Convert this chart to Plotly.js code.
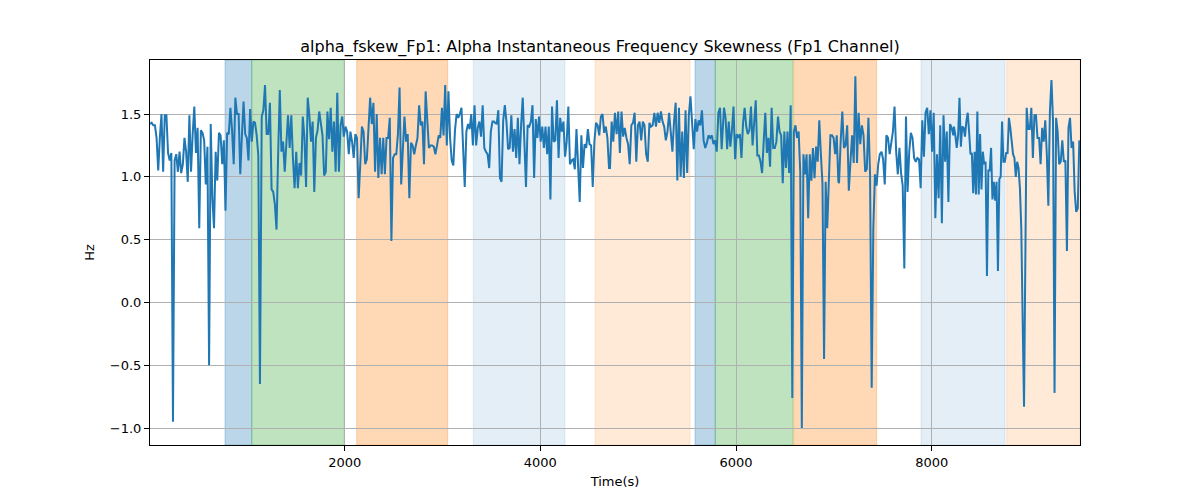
<!DOCTYPE html>
<html>
<head>
<meta charset="utf-8">
<script src="https://cdn.plot.ly/plotly-3.0.1.min.js"></script>
<style>
  body { margin: 0; background: #fff; }
  #chart { width: 1200px; height: 500px; }
</style>
</head>
<body>
<div id="chart"></div>
<script>
// alpha instantaneous frequency skewness, Fp1 channel, in chunks of the recording
var seg1 = [1.42,1.43,1.41,1.41,1.31,1.05,1.31,1.5,1.04,1.49,1.49,1.19,1.13,1.19,-0.95,1.13,1.18,1.04,1.2,1.03,
  1.1,1.31,1.2,0.96,1.49,1.04,1.34,1.56,1.19,1.39,0.59,1.37,1.35,1.29,0.94,1.24,-0.5,1.42,0.83,0.59,
  1.2,0.97,1.35,1.33,1.1,1.29,0.73,1.35,1.34,1.55,1.37,1.1,1.63,1.5,1.5,1.02,1.33,1.6,1.34,1.31,
  1.13,1.54,1.28,1.44,1.43,1.33,1.17,-0.65];
var seg2 = [1.48,1.53,1.73,1.34,1.34,1.59,0.9,0.88,0.78,0.58,1.18,1.69,1.2,1.28,1.04,1.28,1.49,1.23,1.49,1.15,
  0.91,1.2,0.91,1.11,1.01,1.48,1.31,0.92,1.63,1.49,1.28,1.44,0.88,1.31,1.37,1.52,1.41,1.33,1.01,1.04,
  1.52,1.3,1.55,1.2,1.44,1.04,1.67,1.04,1.41,1.48,1.32,1.4,1.36,1.18,1.36,1.28,1.15,1.34,1.31,0.83,
  1.1,1.4,1.36,1.1,1.14,1.39,1.63,1.42,1.59,1.04,1.5,0.99];
var seg3 = [1.31,1.02,1.31,1.02,1.31,1.31,1.47,0.49,1.15,1.18,1.18,1.34,1.71,0.94,1.18,1.48,1.28,1.34,0.83,1.27,
  1.25,1.18,1.25,1.31,1.57,1.41,1.44,1.1,1.68,1.41,1.23,1.25,1.25,1.24,1.18,1.25,1.33,1.31,1.55,1.33,
  1.73,1.25,1.68,1.31,1.13,1.09,1.37,1.5,1.47,1.5,1.55,1.23,0.92,1.36,1.42,1.38,1.5,1.25,1.57,1.25,
  1.39,1.44,1.32,1.57,1.23,1.2,1.18,1.07,1.36,1.44,1.44];
var seg4 = [1.43,1.42,1.53,0.99,0.96,1.45,1.57,1.44,1.22,1.23,1.49,1.2,1.38,1.15,1.47,1.1,1.41,1.63,1.28,0.92,
  1.41,1.4,1.44,1.57,0.99,1.46,1.31,1.48,1.28,1.4,1.23,1.4,1.18,1.4,0.82,1.56,1.28,1.29,1.61,1.15,
  1.47,1.36,1.44,1.16,1.28,1.56,1.1,1.13,1.14,1.06,1.38,1.13,0.8,1.33,1.07,1.26,1.23,1.38,1.26,1.25,
  0.92,1.28,1.43,1.41,1.33,1.48,1.5,1.35,1.4,1.31,1.07];
var seg5 = [1.07,1.44,1.28,1.51,1.34,1.52,1.19,1.52,1.32,1.39,1.31,1.26,1.1,1.41,1.43,1.51,1.12,1.41,1.44,1.29,
  1.44,1.41,1.18,1.12,1.43,1.4,1.41,1.51,1.4,1.51,1.43,1.52,1.44,1.4,1.29,1.36,1.51,1.33,1.2,1.44,
  1.59,0.97,1.55,1.0,1.36,0.99,1.53,1.03,1.49,1.64,1.44,1.22,1.46,1.36,1.45,1.41,1.53,1.29,1.23,1.27,
  1.33,1.31,1.33,1.26,1.29,1.2,1.51,1.55,1.22,1.51];
var seg6 = [1.55,1.47,1.22,1.44,1.24,1.37,1.56,1.14,1.34,1.31,1.34,1.15,1.43,1.55,1.4,1.34,1.37,1.56,1.25,1.43,
  1.61,1.17,1.17,1.12,1.03,1.28,1.51,1.19,1.31,1.08,1.55,1.23,1.23,1.28,1.48,1.36,1.33,0.95,1.36,1.07,
  1.36,1.03,1.57,-0.76,1.36,1.41,1.31,1.36,1.04,-1.0,1.18,1.02,1.18,0.67,1.18,0.97,1.23,0.99,1.24,1.12,
  1.45,1.18,0.95,-0.45,0.96,0.59,0.9,1.33,1.33,1.31,1.18,1.33,0.96];
var seg7 = [0.95,1.28,1.52,1.23,1.25,1.41,0.89,1.12,1.33,1.11,1.8,1.11,1.51,1.26,1.41,1.33,1.04,1.06,1.47,1.02,
  -0.68,0.59,1.02,0.93,1.1,1.18,1.2,1.14,0.94,1.33,1.31,1.18,1.26,1.36,1.56,1.2,1.02,1.23,1.03,0.93,
  0.27,1.48,0.88,1.2,1.35,1.31,1.15,1.12,1.15,1.14,0.91,1.45,1.16,1.51,1.55,1.34,1.53,1.2,1.51,0.67,
  1.18,0.83,1.41,0.63,1.49,1.12,1.36,0.8,1.42,1.39,1.33];
var seg8 = [1.4,1.33,1.23,1.33,1.63,1.24,1.4,1.39,1.32,1.44,1.51,1.36,1.18,1.19,0.87,1.2,0.86,1.52,0.86,1.34,
  0.9,1.2,1.1,1.12,0.21,1.05,1.05,1.23,0.82,0.96,0.81,0.96,0.25,0.98,1.0,1.44,1.12,1.12,1.19,1.19,
  1.47,1.39,1.28,1.18,1.15,1.0,1.12,1.07,0.91,0.59,-0.15,-0.83];
var seg9 = [1.55,1.38,1.38,1.55,1.15,1.49,1.49,1.31,
  1.31,1.1,1.39,1.28,1.45,1.18,0.77,1.52,1.77,1.45,-0.72,1.47,1.36,1.1,1.12,1.29,1.12,1.13,0.41,1.39,
  1.47,1.23,1.28,0.88,0.72,0.75,1.29];

// time span (s) of each chunk: first and last sample
var segValues = [seg1, seg2, seg3, seg4, seg5, seg6, seg7, seg8, seg9];
var segStartT = [10, 1152, 2361, 3537, 4712, 5877, 7053, 8228, 8971];
var segEndT   = [1134, 2344, 3527, 4702, 5870, 7046, 8221, 8944, 9509];

// shaded segments (seconds) and their kind
var bandStart = [777, 1050, 2123, 3315, 4559, 5581, 5788, 6590, 7891, 8767];
var bandEnd   = [1050, 1996, 3053, 4252, 5530, 5788, 6583, 7438, 8750, 9516];
var bandKind  = ['blue', 'green', 'orange', 'lightblue', 'lightorange',
                 'blue', 'green', 'orange', 'lightblue', 'lightorange'];

var bandColors = {
  blue: 'rgba(31,119,180,0.3)',
  green: 'rgba(44,160,44,0.3)',
  orange: 'rgba(255,127,14,0.3)',
  lightblue: 'rgba(31,119,180,0.12)',
  lightorange: 'rgba(255,127,14,0.16)'
};

var times = [], skew = [];
segValues.forEach(function (vals, k) {
  var step = (segEndT[k] - segStartT[k]) / (vals.length - 1);
  vals.forEach(function (v, i) {
    times.push(segStartT[k] + i * step);
    skew.push(v);
  });
});

var shapes = bandStart.map(function (s, i) {
  return {
    type: 'rect', xref: 'x', yref: 'paper',
    x0: s, x1: bandEnd[i], y0: 0, y1: 1,
    fillcolor: bandColors[bandKind[i]],
    line: { width: 1, color: bandColors[bandKind[i]] },
    layer: 'below'
  };
});

var data = [{
  x: times,
  y: skew,
  type: 'scatter',
  mode: 'lines',
  line: { color: '#1f77b4', width: 2 },
  hoverinfo: 'x+y'
}];

var layout = {
  width: 1200,
  height: 500,
  margin: { l: 150, r: 120, t: 60, b: 55 },
  paper_bgcolor: '#fff',
  plot_bgcolor: '#fff',
  font: { family: 'DejaVu Sans, sans-serif', size: 13, color: '#000' },
  title: {
    text: 'alpha_fskew_Fp1: Alpha Instantaneous Frequency Skewness (Fp1 Channel)',
    font: { size: 16, color: '#000' },
    x: 0.5, xanchor: 'center', y: 0.908, yanchor: 'middle'
  },
  showlegend: false,
  shapes: shapes,
  xaxis: {
    range: [10, 9516],
    dtick: 2000, tick0: 0,
    showgrid: true, gridcolor: '#b0b0b0', gridwidth: 1,
    zeroline: false,
    showline: true, linecolor: '#000', linewidth: 1, mirror: true,
    ticks: 'outside', ticklen: 5, tickcolor: '#000',
    title: { text: 'Time(s)', font: { size: 13 }, standoff: 8 }
  },
  yaxis: {
    range: [-1.135, 1.93],
    dtick: 0.5, tick0: 0, tickformat: '.1f',
    showgrid: true, gridcolor: '#b0b0b0', gridwidth: 1,
    zeroline: false,
    showline: true, linecolor: '#000', linewidth: 1, mirror: true,
    ticks: 'outside', ticklen: 5, tickcolor: '#000',
    title: { text: 'Hz', font: { size: 13 }, standoff: 12 }
  }
};

Plotly.newPlot('chart', data, layout, { displayModeBar: false });
</script>
</body>
</html>
